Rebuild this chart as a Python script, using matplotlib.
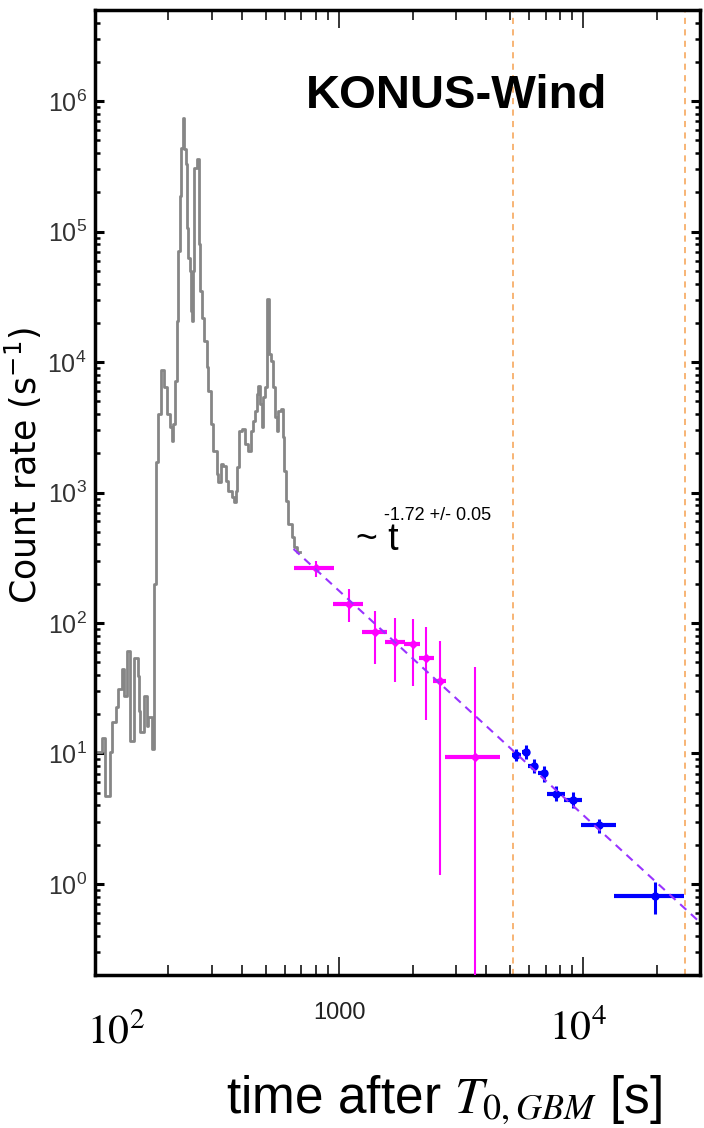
import numpy as np
import matplotlib
matplotlib.use("Agg")
import matplotlib.pyplot as plt
from matplotlib import font_manager
from matplotlib.ticker import FixedLocator, LogLocator, NullFormatter, FuncFormatter

# ------------------------------------------------
# Data
# ------------------------------------------------
# gray light curve, step values (time after T0 [s], count rate [1/s])
lc_t = [100, 106.5, 109.9, 115.2, 117.7, 121.6, 124.6, 128.7, 132.1, 135.6,
        139.1, 144.9, 149.6, 151.5, 152.9, 159.2, 162.6, 165.3, 171.7, 175.0,
        177.8, 181.7, 185.9, 191.8, 196.8, 203.0, 206.3, 209.4, 212.8, 216.2,
        219.5, 223.0, 225.8, 228.7, 231.6, 235.3, 237.5, 241.2, 245.1, 247.4,
        250.5, 252.8, 255.3, 261.1, 266.1, 269.4, 273.8, 279.8, 287.0, 291.3,
        298.0, 305.4, 315.3, 320.1, 327.5, 335.7, 344.4, 351.9, 363.4, 371.4,
        378.5, 383.1, 390.4, 399.3, 411.9, 425.0, 434.7, 445.5, 452.7, 460.0,
        467.0, 474.6, 482.3, 489.6, 497.5, 505.5, 515.1, 524.9, 535.0, 546.7,
        555.6, 564.0, 576.9, 587.9, 596.8, 606.5, 619.8, 640.0, 654.1, 670.9,
        692.1]
lc_rate = [10.2, 13.1, 4.75, 10.2, 17.3, 22.5, 31.2, 44.4, 27.7, 60.6,
           12.5, 53.9, 39.5, 21.3, 14.5, 27.7, 16.3, 18.9, 10.8, 199,
           1701, 3995, 8683, 6389, 3995, 3155, 2495, 3349, 7190, 20730,
           71270, 188100, 441000, 748600, 428700, 329000, 107500, 63300, 50070, 24730,
           20730, 50070, 309800, 359400, 80220, 35190, 21970, 14560, 9093, 6028,
           3349, 2091, 1386, 1195, 1654, 1605, 1231, 1032, 917, 840,
           1032, 1557, 2976, 3066, 2353, 2091, 2976, 3549, 4234, 5685,
           6582, 4767, 3155, 5355, 6389, 30390, 11515, 10230, 6389, 3763,
           2976, 4234, 4362, 2644, 1469, 865, 574, 453, 380, 348,
           348]

# magenta points
mag_t = np.array([805, 1092, 1396, 1686, 1997, 2273, 2576, 3608])
mag_t_lo = np.array([650, 942, 1239, 1535, 1836, 2114, 2421, 2718])
mag_t_hi = np.array([955, 1250, 1568, 1864, 2148, 2450, 2746, 4538])
mag_r = np.array([264, 141, 84.7, 71.9, 69.0, 53.6, 36.1, 9.34])
mag_r_lo = np.array([224, 101, 48.5, 35.0, 32.7, 18.2, 1.17, 0.01])
mag_r_hi = np.array([300, 183, 124, 110, 107, 92.5, 73.1, 45.7])

# blue points
blue_t = np.array([5313, 5823, 6256, 6880, 7750, 9040, 11550, 19600])
blue_t_lo = np.array([5100, 5603, 5950, 6543, 7100, 8300, 9810, 13300])
blue_t_hi = np.array([5555, 6065, 6543, 7190, 8440, 9880, 13530, 25900])
blue_r = np.array([9.79, 10.2, 8.07, 7.04, 4.90, 4.43, 2.83, 0.803])
blue_r_lo = np.array([8.81, 9.08, 7.13, 6.08, 4.30, 3.84, 2.46, 0.589])
blue_r_hi = np.array([10.9, 11.7, 9.12, 8.07, 5.60, 5.10, 3.15, 1.03])

# power-law fit  ~ t^-1.72
fit_index = -1.72
fit_norm = 176.0          # rate at t = 1000 s
fit_range = [650, 30000]

# orange dashed markers
vlines_t = [5130, 26100]

# ------------------------------------------------
# Fonts
# ------------------------------------------------
names = {f.name for f in font_manager.fontManager.ttflist}
NARROW = "Liberation Sans Narrow" if "Liberation Sans Narrow" in names else "Liberation Sans"
plt.rcParams["mathtext.fontset"] = "custom"
plt.rcParams["mathtext.rm"] = NARROW
plt.rcParams["mathtext.it"] = NARROW + ":italic"
plt.rcParams["mathtext.bf"] = NARROW + ":bold"

# ------------------------------------------------
# Figure
# ------------------------------------------------
fig = plt.figure(figsize=(7.04, 11.28), dpi=100)
ax = fig.add_axes([0.1349, 0.1356, 0.8594, 0.8555])
ax.set_xscale("log")
ax.set_yscale("log")
ax.set_xlim(100, 30000)
ax.set_ylim(0.2, 5e6)

ax.plot(lc_t, lc_rate, drawstyle="steps-post", color="#868686", lw=2.0, zorder=2)

for t in vlines_t:
    ax.axvline(t, color="#f5a050", lw=1.1, ls=(0, (4, 3.5)), zorder=1)

# magenta: thick horizontal bars, thin vertical bars
ax.errorbar(mag_t, mag_r, xerr=[mag_t - mag_t_lo, mag_t_hi - mag_t], fmt="none",
            ecolor="#ff00ff", elinewidth=3.0, capsize=0, zorder=3)
ax.errorbar(mag_t, mag_r, yerr=[mag_r - mag_r_lo, mag_r_hi - mag_r], fmt="D",
            color="#ff00ff", ms=4.5, elinewidth=1.5, capsize=0, zorder=3)

# blue
ax.errorbar(blue_t, blue_r, xerr=[blue_t - blue_t_lo, blue_t_hi - blue_t], fmt="none",
            ecolor="#0000ff", elinewidth=3.0, capsize=0, zorder=3)
ax.errorbar(blue_t, blue_r, yerr=[blue_r - blue_r_lo, blue_r_hi - blue_r], fmt="o",
            color="#0000ff", ms=5, elinewidth=2.2, capsize=0, zorder=3)

fit_t = np.array(fit_range, dtype=float)
ax.plot(fit_t, fit_norm * (fit_t / 1000.0) ** fit_index, color="#9933ff",
        lw=1.5, ls=(0, (4, 3)), zorder=4)

# ------------------------------------------------
# Axes styling
# ------------------------------------------------
for s in ax.spines.values():
    s.set_linewidth(2.5)

ax.yaxis.set_major_locator(FixedLocator([1e0, 1e1, 1e2, 1e3, 1e4, 1e5, 1e6]))
ax.yaxis.set_minor_locator(LogLocator(base=10, subs=np.arange(2, 10), numticks=20))
ax.yaxis.set_major_formatter(FuncFormatter(lambda v, p: r"$10^{%d}$" % round(np.log10(v))))
ax.yaxis.set_minor_formatter(NullFormatter())
ax.tick_params(axis="y", which="major", direction="in", length=6.5, width=2.2,
               right=True, labelsize=18, pad=6, labelcolor="#333333")
ax.tick_params(axis="y", which="minor", direction="in", length=3.6, width=1.8, right=True)

ax.xaxis.set_major_locator(FixedLocator([100, 1000, 10000]))
ax.xaxis.set_minor_locator(LogLocator(base=10, subs=np.arange(2, 10), numticks=20))
ax.xaxis.set_major_formatter(NullFormatter())
ax.xaxis.set_minor_formatter(NullFormatter())
ax.tick_params(axis="x", which="major", direction="in", length=13, width=1.1, top=True)
ax.tick_params(axis="x", which="minor", direction="in", length=7, width=1.1, top=True)

# x tick labels (mixed styles, as in the original)
ax.annotate(r"$10^2$", xy=(100, 0), xycoords=("data", "axes fraction"),
            xytext=(15, -41), textcoords="offset points", ha="center", va="center",
            fontsize=30, math_fontfamily="stix")
ax.annotate("1000", xy=(1000, 0), xycoords=("data", "axes fraction"),
            xytext=(0, -27), textcoords="offset points", ha="center", va="center",
            fontsize=17, family=NARROW, color="#222222")
ax.annotate(r"$10^4$", xy=(10000, 0), xycoords=("data", "axes fraction"),
            xytext=(-3.6, -38), textcoords="offset points", ha="center", va="center",
            fontsize=30, math_fontfamily="stix")

ax.set_xlabel(r"time after $T_{0,GBM}$ [s]", fontsize=37, family="Liberation Sans",
              math_fontfamily="stix", ha="center", va="baseline")
ax.xaxis.set_label_coords(0.5769, -0.143)
ax.set_ylabel(r"Count rate (s$^{-1}$)", fontsize=25, family="DejaVu Sans",
              math_fontfamily="dejavusans", va="center")
ax.yaxis.set_label_coords(-0.119, 0.5285)

# annotations
ax.text(0.598, 0.911, "KONUS-Wind", transform=ax.transAxes, ha="center", va="center",
        fontsize=34, fontweight="bold", family="Liberation Sans")
ax.text(0.432, 0.4404, "~ t", transform=ax.transAxes, ha="left", va="baseline",
        fontsize=27, family=NARROW)
ax.text(0.478, 0.4715, "-1.72 +/- 0.05", transform=ax.transAxes, ha="left", va="baseline",
        fontsize=13, family=NARROW)

fig.savefig("out.png", dpi=100)
